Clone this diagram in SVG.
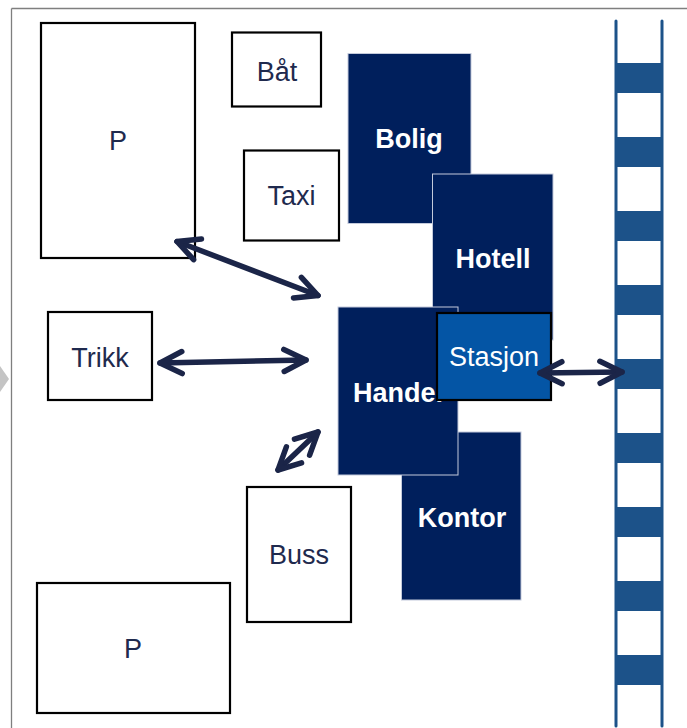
<svg xmlns="http://www.w3.org/2000/svg" width="687" height="728" viewBox="0 0 687 728">
<style>
.box{fill:#fff;stroke:#000;stroke-width:2.2}
.dark{fill:#001F5C;stroke:#c3cadb;stroke-width:1}
.lbl{font-family:"Liberation Sans",Arial,sans-serif;font-size:27px;fill:#1f2a4e;text-anchor:middle}
.blbl{font-family:"Liberation Sans",Arial,sans-serif;font-size:27px;font-weight:bold;fill:#fff;text-anchor:middle}
.rail{stroke:#1c5289;stroke-width:3;stroke-linecap:round}
.band{fill:#1c5289}
.arr{fill:none;stroke:#1b2548;stroke-width:5.5;stroke-linecap:round;marker-start:url(#head);marker-end:url(#head)}
</style>
<defs>
<marker id="head" markerUnits="userSpaceOnUse" orient="auto-start-reverse" refX="0" refY="0" overflow="visible">
<path d="M-22,-11 L0,0 L-22,11" fill="none" stroke="#1b2548" stroke-width="5.5" stroke-linecap="round" stroke-linejoin="round"/>
</marker>
</defs>
<rect width="687" height="728" fill="#fff"/>
<g id="frame">
<line x1="11.5" y1="8.5" x2="687" y2="8.5" stroke="#7f7f7f" stroke-width="1.3"/>
<line x1="11.5" y1="8.5" x2="11.5" y2="728" stroke="#7f7f7f" stroke-width="1.3"/>
<polygon points="0,366 9,379 0,392" fill="#c4c4c4"/>
</g>
<g id="railway">
<rect class="band" x="616" y="63" width="46" height="30"/>
<rect class="band" x="616" y="137" width="46" height="30"/>
<rect class="band" x="616" y="211" width="46" height="30"/>
<rect class="band" x="616" y="285" width="46" height="30"/>
<rect class="band" x="616" y="359" width="46" height="30"/>
<rect class="band" x="616" y="433" width="46" height="30"/>
<rect class="band" x="616" y="507" width="46" height="30"/>
<rect class="band" x="616" y="581" width="46" height="30"/>
<rect class="band" x="616" y="655" width="46" height="30"/>
<line class="rail" x1="616" y1="21" x2="616" y2="726"/>
<line class="rail" x1="662" y1="21" x2="662" y2="726"/>
</g>
<g id="p1"><rect class="box" x="41" y="23" width="154" height="235"/><text class="lbl" x="118" y="150">P</text></g>
<g id="bat"><rect class="box" x="232" y="32.5" width="89" height="74"/><text class="lbl" x="277" y="80.5">Båt</text></g>
<g id="taxi"><rect class="box" x="244" y="150.5" width="95" height="90"/><text class="lbl" x="291.5" y="205">Taxi</text></g>
<g id="trikk"><rect class="box" x="48" y="312" width="104" height="88"/><text class="lbl" x="100" y="367">Trikk</text></g>
<g id="buss"><rect class="box" x="247" y="487" width="104" height="135"/><text class="lbl" x="299" y="564">Buss</text></g>
<g id="p2"><rect class="box" x="37" y="583" width="193" height="130"/><text class="lbl" x="133" y="657.5">P</text></g>
<g id="bolig"><rect class="dark" x="348" y="53.5" width="123" height="170"/><text class="blbl" x="409" y="148">Bolig</text></g>
<g id="hotell"><rect class="dark" x="432.5" y="174" width="120.5" height="166"/><text class="blbl" x="493" y="268">Hotell</text></g>
<g id="kontor"><rect class="dark" x="401.5" y="432" width="119.5" height="168"/><text class="blbl" x="462" y="526.5">Kontor</text></g>
<g id="handel"><rect class="dark" x="338" y="307" width="120" height="168"/><text class="blbl" x="398" y="401.5">Handel</text></g>
<g id="stasjon"><rect x="437" y="313" width="114" height="87" fill="#0455A5" stroke="#000" stroke-width="2.2"/><text class="lbl" x="494" y="366" style="fill:#fff">Stasjon</text></g>
<g id="connectors">
<path class="arr" d="M177,241.5 L318,295.5"/>
<path class="arr" d="M160,363 L306,360"/>
<path class="arr" d="M278,470 L318,432"/>
<path class="arr" d="M540,373 L622,372"/>
</g>
</svg>
